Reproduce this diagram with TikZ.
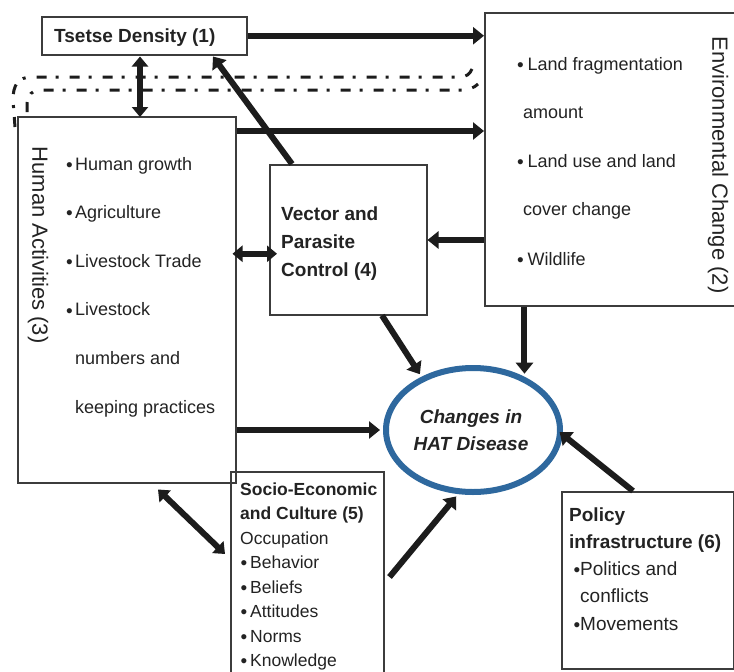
\documentclass[tikz,border=0pt]{standalone}
\usepackage{fontspec}
\setmainfont{Liberation Sans}
\usetikzlibrary{arrows.meta,shapes.geometric,calc}
\definecolor{hatblue}{RGB}{46,104,158}
\definecolor{ink}{RGB}{28,28,28}
\definecolor{boxline}{RGB}{60,60,60}
\definecolor{txt}{RGB}{35,35,35}
\newcommand{\bl}[1][9pt]{\makebox[#1][l]{\raisebox{-1.2pt}{\fontsize{19}{19}\selectfont •}}}
\begin{document}
\begin{tikzpicture}[x=1pt,y=-1pt,
  box/.style={draw=boxline,line width=1.5pt,inner sep=0pt,anchor=north west},
  arr/.style={draw=ink,line width=6pt,-{Triangle[length=11pt,width=17pt]}},
  darr/.style={draw=ink,line width=6pt,{Triangle[length=10pt,width=16pt]}-{Triangle[length=10pt,width=16pt]}},
  dd/.style={line width=3pt,draw=ink,dash pattern=on 10pt off 9pt on 3pt off 11pt},
  lbl/.style={inner sep=0pt,anchor=base west,text=txt},
  r18/.style={lbl,font=\fontsize{18}{18}\selectfont},
  b19/.style={lbl,font=\fontsize{19}{19}\selectfont\bfseries},
  r19/.style={lbl,font=\fontsize{19}{19}\selectfont},
  b17/.style={lbl,font=\fontsize{17.5}{17.5}\selectfont\bfseries},
  r17/.style={lbl,font=\fontsize{17.5}{17.5}\selectfont},
  ttl/.style={inner sep=0pt,rotate=-90,text=txt,font=\fontsize{22}{22}\selectfont}
]
\useasboundingbox[fill=white] (0,0) rectangle (734,672);

% boxes
\node[box,minimum width=205pt,minimum height=38pt] (ts) at (41,16) {};
\node[box,minimum width=260pt,minimum height=293pt] (env) at (484,12) {};
\node[box,minimum width=218pt,minimum height=366pt] (hum) at (17,116) {};
\node[box,minimum width=157pt,minimum height=150pt] (vec) at (269,164) {};
\node[box,minimum width=153pt,minimum height=215pt] (soc) at (230,471) {};
\node[box,minimum width=172pt,minimum height=177pt] (pol) at (561,491) {};
\node[ellipse,draw=hatblue,line width=6pt,minimum width=174pt,minimum height=124pt,inner sep=0pt] (ell) at (473,430) {};

% texts
\node[b19] (tst) at (54,42) {Tsetse Density (1)};

\node[ttl] (envt) at (718,165) {Environmental Change (2)};
\node[r18] (e1) at (517,70) {\bl[10.5pt]Land fragmentation};
\node[r18] (e2) at (523,118) {amount};
\node[r18] (e3) at (517,167) {\bl[10.5pt]Land use and land};
\node[r18] (e4) at (523,215) {cover change};
\node[r18] (e5) at (517,265) {\bl[10.5pt]Wildlife};

\node[ttl] (humt) at (38,245) {Human Activities (3)};
\node[r18] (h1) at (66,170) {\bl Human growth};
\node[r18] (h2) at (66,218.6) {\bl Agriculture};
\node[r18] (h3) at (66,267.2) {\bl Livestock Trade};
\node[r18] (h4) at (66,315.8) {\bl Livestock};
\node[r18] (h5) at (75,364.4) {numbers and};
\node[r18] (h6) at (75,413) {keeping practices};

\node[b19] (v1) at (281,220) {Vector and};
\node[b19] (v2) at (281,248) {Parasite};
\node[b19] (v3) at (281,276) {Control (4)};

\node[inner sep=0pt,align=center,text=txt,font=\fontsize{19}{27}\selectfont\bfseries\itshape] (ellt) at (471,430) {Changes in\\HAT Disease};

\node[b17] (s1) at (240,495) {Socio-Economic};
\node[b17] (s2) at (240,519.5) {and Culture (5)};
\node[r17] (s3) at (240,544) {Occupation};
\node[r17] (s4) at (240.5,568.5) {\bl[9.5pt]Behavior};
\node[r17] (s5) at (240.5,593) {\bl[9.5pt]Beliefs};
\node[r17] (s6) at (240.5,617.5) {\bl[9.5pt]Attitudes};
\node[r17] (s7) at (240.5,642) {\bl[9.5pt]Norms};
\node[r17] (s8) at (240.5,666.5) {\bl[9.5pt]Knowledge};

\node[b19] (p1) at (569,521) {Policy};
\node[b19] (p2) at (569,548) {infrastructure (6)};
\node[r19] (p3) at (573.5,575) {\bl[6.5pt]Politics and};
\node[r19] (p4) at (580,602) {conflicts};
\node[r19] (p5) at (573.5,630) {\bl[6.5pt]Movements};

% dash-dot loop lines
\draw[dd] (15,127) -- (13,100) .. controls (13,85) and (18,77) .. (32,77) -- (460,77) .. controls (466,77) and (470,74) .. (472,69);
\draw[dd] (27,112) -- (27,103) .. controls (28,95) and (32,90) .. (40,90) -- (462,90) .. controls (468,90) and (474,88) .. (478,84);

% helper coordinates
\coordinate (hvx) at (140,0);
\coordinate (y131) at (0,131);
\coordinate (y240) at (0,240);

% connectors
\draw[arr] (ts.east) -- (ts.east -| env.west);
\draw[darr] ($(ts.south -| hvx)+(0,1)$) -- ($(hum.north -| hvx)+(0,1)$);
\draw[arr] ($(vec.north west)+(23,0)$) -- ($(ts.south west)+(172,1)$);
\draw[arr] (hum.east |- y131) -- (env.west |- y131);
\draw[darr] ($(hum.east)+(-4,-46)$) -- ($(vec.west)+(8,14)$);
\draw[arr] (env.west |- y240) -- (vec.east |- y240);
\draw[arr,shorten >=3pt] ($(vec.south west)+(113,0)$) -- (ell.134);
\draw[arr,shorten >=3pt] (env.south -| ell.46) -- (ell.46);
\draw[arr,shorten >=3pt] (hum.east |- ell.west) -- (ell.west);
\draw[arr,shorten >=3pt] ($(soc.north east)+(5,106)$) -- (ell.-103);
\draw[arr,shorten >=-4pt] ($(pol.north west)+(72,0)$) -- (ell.-3);
\draw[darr] ($(hum.south west)+(141,6)$) -- ($(soc.north west)+(-5,83)$);
\end{tikzpicture}
\end{document}
